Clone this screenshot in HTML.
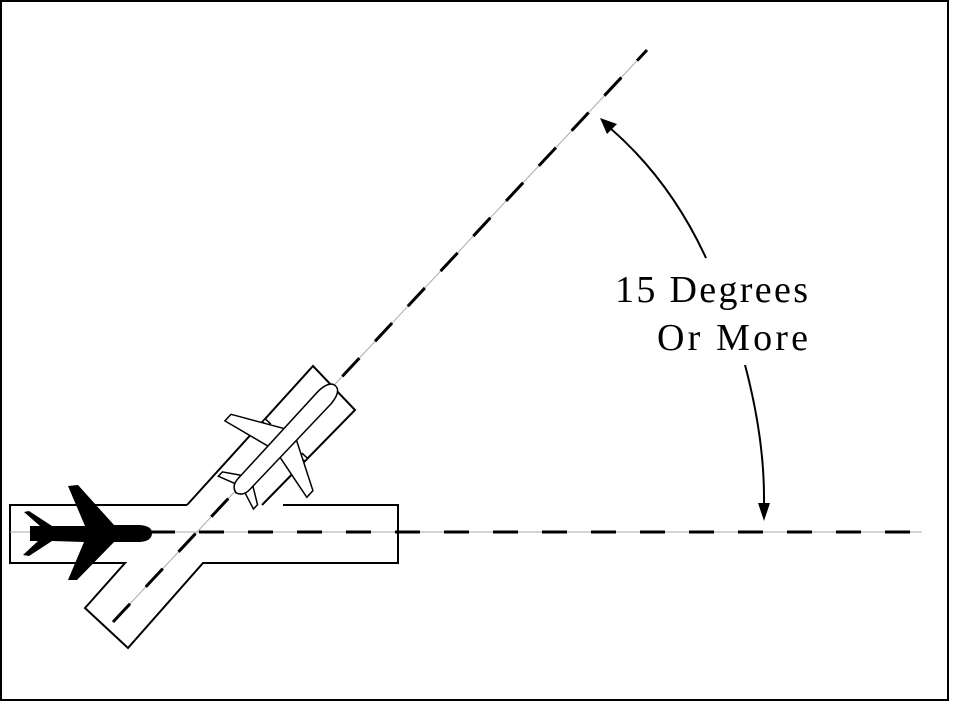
<!DOCTYPE html>
<html><head><meta charset="utf-8"><style>
html,body{margin:0;padding:0;background:#fff;}
svg{display:block;}
.t{font-family:"Liberation Serif","DejaVu Serif",serif;font-size:38px;}
</style></head><body>
<svg width="955" height="706" viewBox="0 0 955 706" xmlns="http://www.w3.org/2000/svg">
<rect x="1" y="1" width="947" height="699" fill="#fff" stroke="#000" stroke-width="2"/>
<!-- runway outline -->
<path d="M187,505 L313,366 L355,410 L262,505 M283,505 L398,505 L398,563 L203,563 L128,648 L85,608 L125,563 L10,563 L10,505 L187,505" fill="none" stroke="#000" stroke-width="2"/>
<!-- centerlines -->
<line x1="10" y1="532" x2="922" y2="532" stroke="#aaa" stroke-width="1"/>
<line x1="150" y1="532" x2="922" y2="532" stroke="#000" stroke-width="3" stroke-dasharray="25,24"/>
<line x1="113" y1="622" x2="647" y2="50" stroke="#aaa" stroke-width="1"/>
<line x1="113" y1="622" x2="647" y2="50" stroke="#000" stroke-width="3" stroke-dasharray="25,23"/>
<!-- black plane -->
<path d="M30,526 L40,526 L24,512 L29,511 L52,526 L85,526 L68,486 L78,485 L114,525 L140,525 Q152,526 152,533 Q152,541 140,542 L114,542 L77,580 L68,580 L84,542 L52,541 L29,556 L23,555 L38,541 L30,541 Z" fill="#000"/>
<!-- white plane -->
<g transform="translate(285,440) rotate(-47)">
 <path d="M-12,-22 L-16,-22 L-16,-31 L-12,-31 Z M-2,-22 L2,-22 L2,-29 L-2,-29 Z M-12,22 L-16,22 L-16,31 L-12,31 Z M-2,22 L2,22 L2,29 L-2,29 Z" fill="#fff" stroke="#000" stroke-width="1.5"/>
 <path d="M8,-8 L-18,-57 L-27,-57 L-16,-8 Z M8,8 L-18,55 L-27,55 L-16,8 Z" fill="#fff" stroke="#000" stroke-width="1.5"/>
 <path d="M-55,-7 L-66,-24 L-72,-24 L-66,-7 Z M-55,7 L-66,24 L-72,24 L-66,7 Z" fill="#fff" stroke="#000" stroke-width="1.5"/>
 <path d="M-72,0 Q-70,-8 -60,-8 L58,-9 Q74,-8 74,0 Q74,8 58,9 L-60,8 Q-70,8 -72,0 Z" fill="#fff" stroke="#000" stroke-width="1.5"/>
</g>
<!-- arrows -->
<path d="M706,258 Q670,180 610,128" fill="none" stroke="#000" stroke-width="2"/>
<path d="M600,118 L617,124 L607,134 Z" fill="#000"/>
<path d="M745,365 Q765,440 764,505" fill="none" stroke="#000" stroke-width="2"/>
<path d="M764,521 L758,503 L770,503 Z" fill="#000"/>
<text class="t" x="615" y="302" textLength="193" lengthAdjust="spacing">15 Degrees</text>
<text class="t" x="657" y="350" textLength="151" lengthAdjust="spacing">Or More</text>
</svg>
</body></html>
